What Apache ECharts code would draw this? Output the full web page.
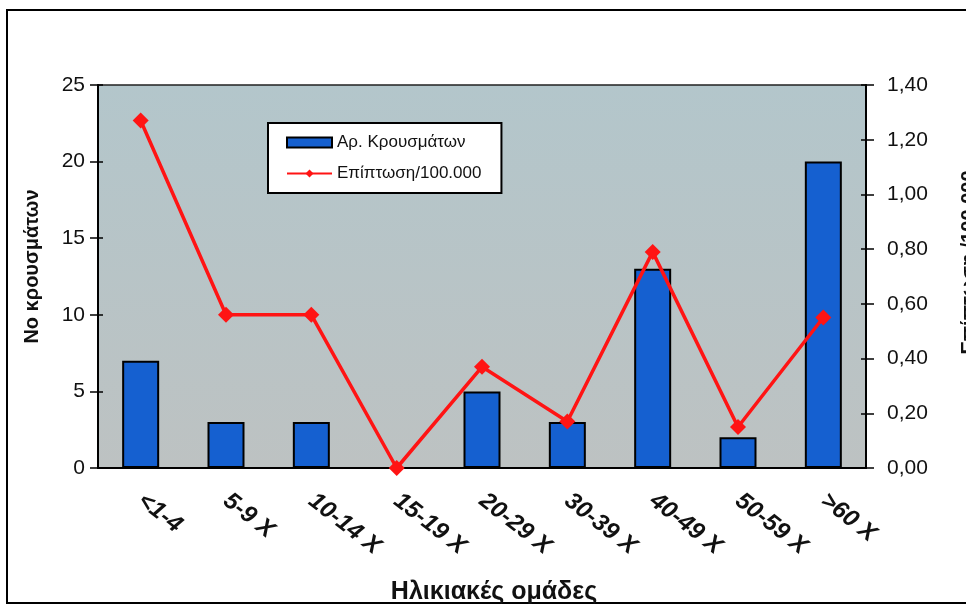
<!DOCTYPE html>
<html>
<head>
<meta charset="utf-8">
<title>Κρούσματα ανά ηλικιακή ομάδα</title>
<script src="https://cdn.jsdelivr.net/npm/echarts@6/dist/echarts.min.js"></script>
<style>
  html, body { margin: 0; padding: 0; background: #ffffff; }
  #chart { width: 966px; height: 605px; }
</style>
</head>
<body>
<div id="chart"></div>
<script>
// Age groups and the two series plotted against them
const categories = ['<1-4', '5-9 Χ', '10-14 Χ', '15-19 Χ', '20-29 Χ', '30-39 Χ', '40-49 Χ', '50-59 Χ', '>60 Χ'];
const cases = [7, 3, 3, 0, 5, 3, 13, 2, 20];
const incidence = [1.27, 0.56, 0.56, 0.0, 0.37, 0.17, 0.79, 0.15, 0.55];

const leftTicks = { min: 0, max: 25, interval: 5 };
const rightTicks = { min: 0, max: 1.4, interval: 0.2 };

const FONT = '"Liberation Sans", Arial, sans-serif';
const ink = '#111111';

const chart = echarts.init(document.getElementById('chart'), null, { renderer: 'canvas' });

const commaFmt = v => v.toFixed(2).replace('.', ',');

chart.setOption({
  animation: false,
  textStyle: { fontFamily: FONT },
  graphic: [{
    type: 'rect',
    z: -10,
    shape: { x: 7, y: 10, width: 975, height: 593 },
    style: { fill: 'none', stroke: '#000000', lineWidth: 2 }
  }],
  grid: {
    left: 98, right: 100, top: 85, bottom: 137,
    containLabel: false,
    outerBoundsMode: 'none',
    show: true,
    borderColor: '#222222',
    borderWidth: 1.5,
    backgroundColor: {
      type: 'linear', x: 0, y: 0, x2: 0, y2: 1,
      colorStops: [
        { offset: 0, color: '#b3c6cb' },
        { offset: 1, color: '#bdc2c2' }
      ]
    }
  },
  legend: {
    orient: 'vertical',
    left: 268, top: 123,
    backgroundColor: '#ffffff',
    borderColor: '#000000',
    borderWidth: 2,
    padding: [11, 20, 11, 18],
    itemGap: 14,
    itemWidth: 45,
    itemHeight: 10,
    textStyle: { fontSize: 17, color: ink, fontFamily: FONT },
    data: [
      { name: 'Αρ. Κρουσμάτων', icon: 'rect' },
      { name: 'Επίπτωση/100.000' }
    ]
  },
  xAxis: [{
    type: 'category',
    data: categories,
    boundaryGap: true,
    name: 'Ηλικιακές ομάδες',
    nameLocation: 'middle',
    nameGap: 112,
    nameTextStyle: { fontSize: 25, fontWeight: 'bold', color: ink, fontFamily: FONT, padding: [0, 0, 0, 24] },
    axisLine: { lineStyle: { color: '#000000', width: 2 } },
    axisTick: { length: 9, lineStyle: { color: '#000000', width: 1.5 } },
    axisLabel: {
      rotate: -38, margin: 30, interval: 0,
      fontSize: 24, fontWeight: 'bold', fontStyle: 'italic', color: ink, fontFamily: FONT
    }
  }, {
    type: 'category',
    data: categories,
    position: 'bottom',
    axisLine: { show: false },
    axisTick: { inside: true, length: 4, lineStyle: { color: '#000000', width: 1.5 } },
    axisLabel: { show: false }
  }],
  yAxis: [{
    type: 'value',
    min: leftTicks.min, max: leftTicks.max, interval: leftTicks.interval,
    name: 'Νο κρουσμάτων',
    nameLocation: 'middle',
    nameRotate: 90,
    nameGap: 56,
    nameTextStyle: { fontSize: 20, fontWeight: 'bold', color: ink, fontFamily: FONT, padding: [0, 0, 0, 20] },
    splitLine: { show: false },
    axisLine: { show: true, lineStyle: { color: '#000000', width: 2 } },
    axisTick: { show: true, length: 8, lineStyle: { color: '#000000', width: 1.5 } },
    axisLabel: { fontSize: 21, color: ink, margin: 13, fontFamily: FONT }
  }, {
    type: 'value',
    position: 'right',
    min: rightTicks.min, max: rightTicks.max, interval: rightTicks.interval,
    name: 'Επίπτωση /100.000',
    nameLocation: 'middle',
    nameRotate: 90,
    nameGap: 93,
    nameTextStyle: { fontSize: 20, fontWeight: 'bold', color: ink, fontFamily: FONT, padding: [0, 0, 0, 28] },
    splitLine: { show: false },
    axisLine: { show: true, lineStyle: { color: '#000000', width: 2 } },
    axisTick: { show: true, length: 8, lineStyle: { color: '#000000', width: 1.5 } },
    axisLabel: { fontSize: 21, color: ink, margin: 21, formatter: commaFmt, fontFamily: FONT }
  }, {
    type: 'value',
    position: 'left',
    min: leftTicks.min, max: leftTicks.max, interval: leftTicks.interval,
    splitLine: { show: false },
    axisLine: { show: false },
    axisTick: { show: true, inside: true, length: 5, lineStyle: { color: '#000000', width: 1.5 } },
    axisLabel: { show: false }
  }, {
    type: 'value',
    position: 'right',
    min: rightTicks.min, max: rightTicks.max, interval: rightTicks.interval,
    splitLine: { show: false },
    axisLine: { show: false },
    axisTick: { show: true, inside: true, length: 5, lineStyle: { color: '#000000', width: 1.5 } },
    axisLabel: { show: false }
  }],
  series: [{
    name: 'Αρ. Κρουσμάτων',
    type: 'bar',
    xAxisIndex: 0,
    yAxisIndex: 0,
    data: cases,
    barWidth: 37,
    itemStyle: { color: '#1560d0', borderColor: '#000000', borderWidth: 2 }
  }, {
    name: 'Επίπτωση/100.000',
    type: 'line',
    xAxisIndex: 0,
    yAxisIndex: 1,
    data: incidence,
    symbol: 'diamond',
    symbolSize: 16,
    lineStyle: { color: '#ff1414', width: 3.5 },
    itemStyle: { color: '#ff1414' },
    z: 5
  }]
});
</script>
</body>
</html>
